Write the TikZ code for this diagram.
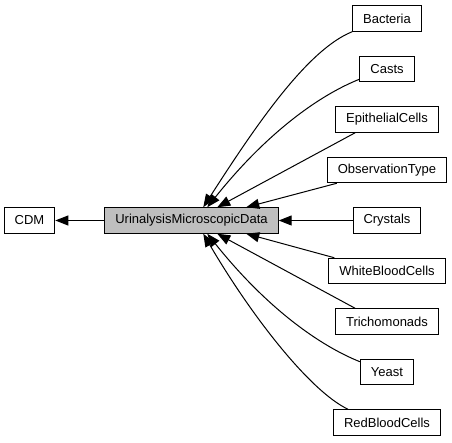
\documentclass[tikz,border=0pt]{standalone}
\usepackage{fontspec}
\setmainfont{Liberation Sans}
\usetikzlibrary{arrows.meta}
\tikzset{
  cls/.style={draw=black,fill=white,line width=1pt,minimum height=25.5pt,
    inner xsep=10.5pt,inner ysep=0pt,font=\fontsize{13}{15}\selectfont},
  cur/.style={cls,fill=black!25},
  dep/.style={line width=1pt,->,>={Triangle[length=13pt,width=10pt]}}
}
\begin{document}
\begin{tikzpicture}[x=1pt,y=1pt]
	\useasboundingbox (0,0) rectangle (452,443);

	\node[cur] (urin) at (191.5,222.5) {UrinalysisMicroscopicData};
	\node[cls] (cdm) at (29.5,222.5) {CDM};

	\node[cls] (bacteria) at (387,424.5) {Bacteria};
	\node[cls] (casts) at (387,374) {Casts};
	\node[cls] (epith) at (387,323.5) {EpithelialCells};
	\node[cls] (obs) at (387,273) {ObservationType};
	\node[cls] (crystals) at (387,222.5) {Crystals};
	\node[cls] (white) at (387,172) {WhiteBloodCells};
	\node[cls] (trich) at (387,121.5) {Trichomonads};
	\node[cls] (yeast) at (387,71) {Yeast};
	\node[cls] (red) at (387,20.5) {RedBloodCells};

	\draw[dep] (urin) -- (cdm);
	\draw[dep] (crystals) -- (urin);

	\draw[dep] (bacteria.south west) .. controls +(-45,-18) and +(52,81) .. ([xshift=99pt]urin.north west);
	\draw[dep] ([yshift=3pt]casts.south west) .. controls +(-40,-16) and +(60,75) .. ([xshift=103pt]urin.north west);
	\draw[dep] ([xshift=20pt]epith.south west) -- ([xshift=113pt]urin.north west);
	\draw[dep] ([xshift=10pt]obs.south west) -- ([xshift=142pt]urin.north west);

	\draw[dep] ([xshift=6pt]white.north west) -- ([xshift=142pt]urin.south west);
	\draw[dep] ([xshift=20pt]trich.north west) -- ([xshift=113pt]urin.south west);
	\draw[dep] ([yshift=-3pt]yeast.north west) .. controls +(-40,16) and +(60,-75) .. ([xshift=103pt]urin.south west);
	\draw[dep] ([xshift=15pt]red.north west) .. controls +(-38,18) and +(48,-82) .. ([xshift=99pt]urin.south west);
\end{tikzpicture}
\end{document}
